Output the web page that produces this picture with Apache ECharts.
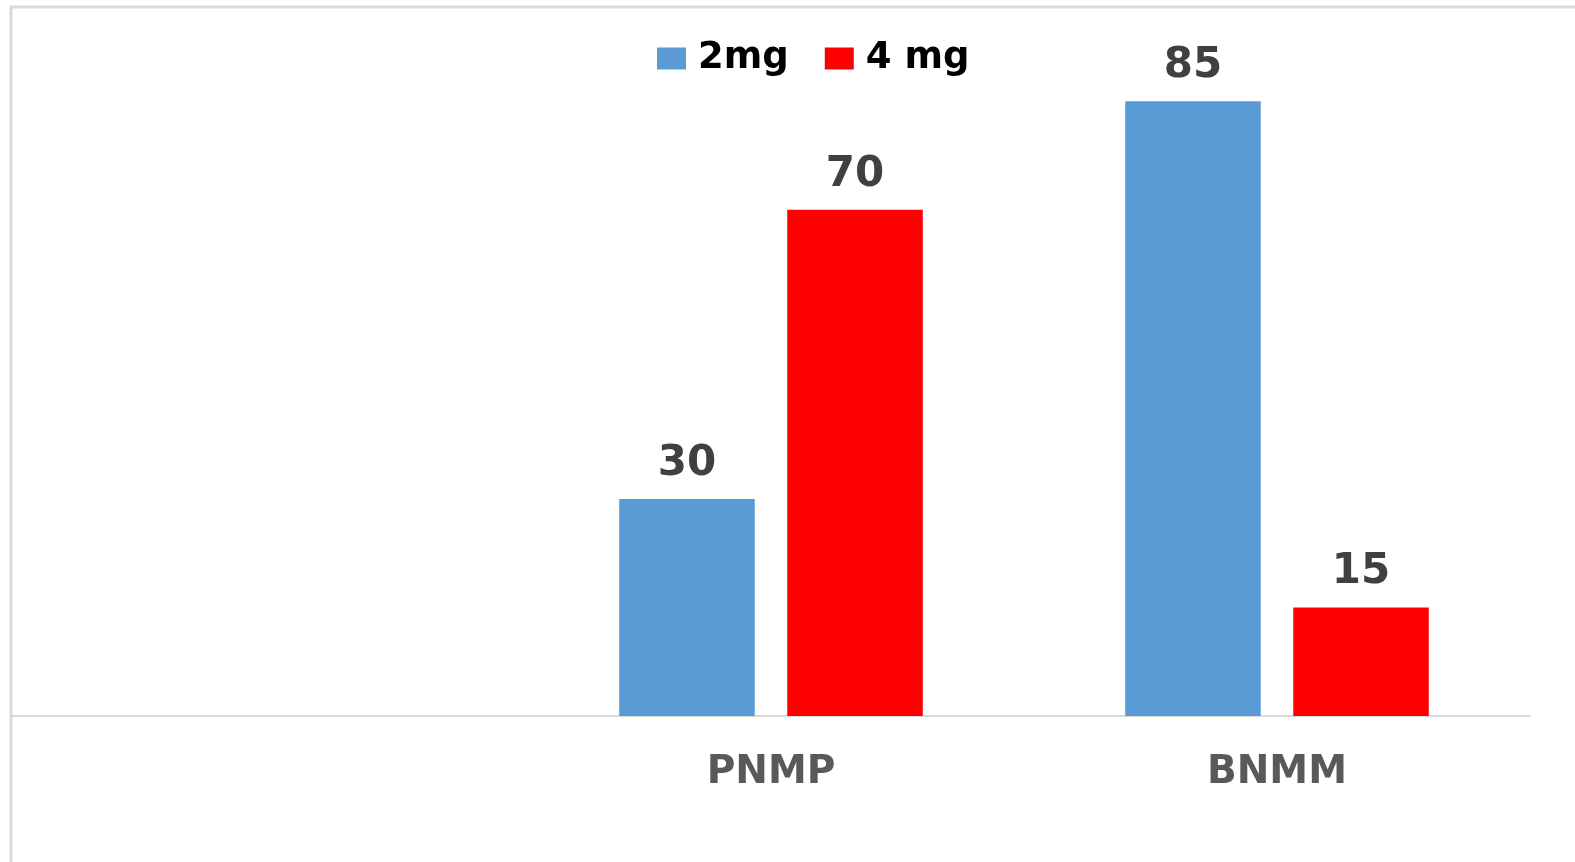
<!DOCTYPE html>
<html>
<head>
<meta charset="utf-8">
<script src="https://cdn.jsdelivr.net/npm/echarts@6/dist/echarts.min.js"></script>
<style>
  html, body { margin: 0; padding: 0; background: #fff; }
  #chart { width: 1575px; height: 862px; }
</style>
</head>
<body>
<div id="chart"></div>
<script>
// Categories along the x axis (the first slot is left blank)
const categories = ['', 'PNMP', 'BNMM'];
// Percent values per dose
const dose2mg = ['-', 30, 85];
const dose4mg = ['-', 70, 15];
const seriesNames = ['2mg', '4 mg'];
const seriesColors = ['#5b9bd5', '#ff0000'];

const chart = echarts.init(document.getElementById('chart'), null, { renderer: 'canvas' });

const labelStyle = {
  show: true,
  position: 'top',
  distance: 14,
  fontFamily: 'DejaVu Sans',
  fontWeight: 'bold',
  fontSize: 42,
  color: '#404040'
};

chart.setOption({
  animation: false,
  backgroundColor: '#ffffff',
  graphic: [{
    type: 'rect',
    shape: { x: 11, y: 7, width: 1700, height: 1000 },
    style: { fill: 'none', stroke: '#d9d9d9', lineWidth: 3 },
    silent: true
  }],
  legend: {
    top: 35,
    left: 652,
    itemWidth: 29,
    itemHeight: 22,
    itemGap: 36,
    icon: 'rect',
    textStyle: {
      fontFamily: 'DejaVu Sans',
      fontWeight: 'bold',
      fontSize: 37,
      color: '#000000',
      padding: [0, 0, 0, 7]
    },
    data: seriesNames
  },
  grid: { left: 12, right: 45, top: 65, bottom: 146, containLabel: false },
  xAxis: {
    type: 'category',
    data: categories,
    axisLine: { show: true, lineStyle: { color: '#d9d9d9', width: 2 } },
    axisTick: { show: false },
    axisLabel: {
      margin: 37,
      fontFamily: 'DejaVu Sans',
      fontWeight: 'bold',
      fontSize: 39,
      color: '#595959'
    }
  },
  yAxis: {
    type: 'value',
    min: 0,
    max: 90,
    show: false,
    splitLine: { show: false }
  },
  series: [
    {
      name: seriesNames[0],
      type: 'bar',
      data: dose2mg,
      barGap: '24%',
      barCategoryGap: '40%',
      itemStyle: { color: seriesColors[0] },
      label: labelStyle
    },
    {
      name: seriesNames[1],
      type: 'bar',
      data: dose4mg,
      barGap: '24%',
      barCategoryGap: '40%',
      itemStyle: { color: seriesColors[1] },
      label: labelStyle
    }
  ]
});
</script>
</body>
</html>
